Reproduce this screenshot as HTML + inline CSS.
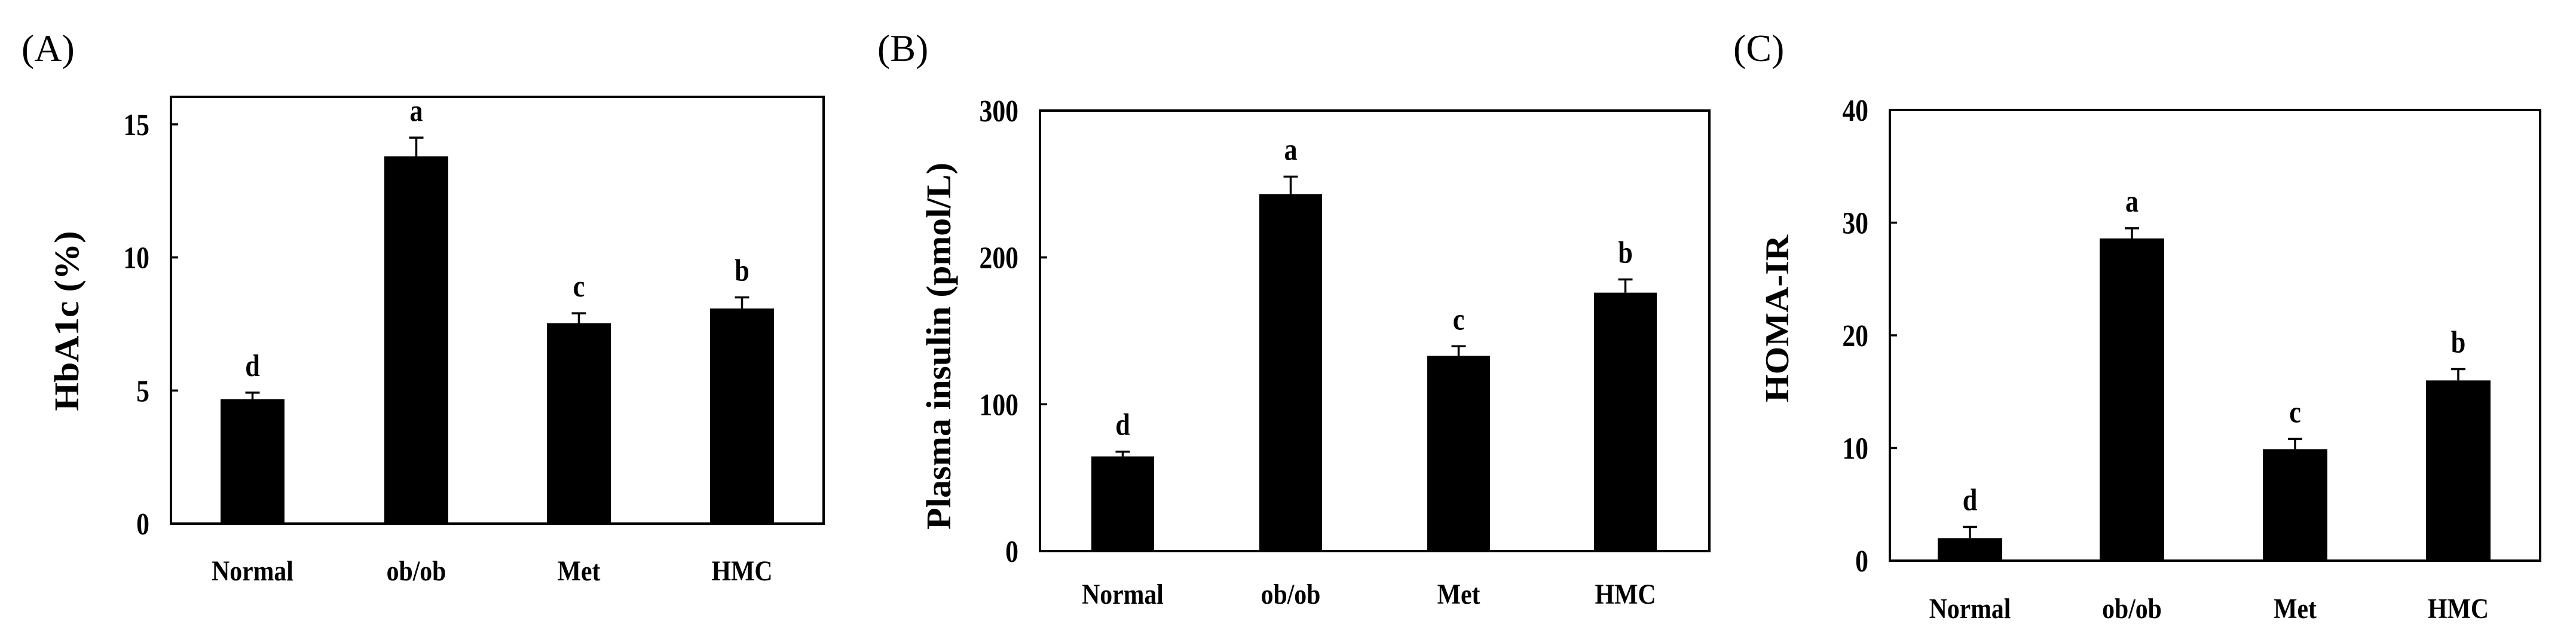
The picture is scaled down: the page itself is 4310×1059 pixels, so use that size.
<!DOCTYPE html>
<html><head><meta charset="utf-8"><style>
html,body{margin:0;padding:0;background:#fff;}
svg{display:block;font-family:"Liberation Serif",serif;}
</style></head><body>
<svg id="fig" width="4310" height="1059" viewBox="0 0 4310 1059" xmlns="http://www.w3.org/2000/svg"></svg>
<script>
const categories = ["Normal", "ob/ob", "Met", "HMC"];
const hba1cValues = [4.67, 13.8, 7.53, 8.08];
const hba1cErrors = [0.25, 0.7, 0.37, 0.42];
const hba1cLetters = ["d", "a", "c", "b"];
const hba1cTicks = [0, 5, 10, 15];
const insulinValues = [64.5, 243, 133, 176];
const insulinErrors = [3.2, 12, 6.5, 9];
const insulinLetters = ["d", "a", "c", "b"];
const insulinTicks = [0, 100, 200, 300];
const homaValues = [2.0, 28.6, 9.9, 16.0];
const homaErrors = [1.0, 0.9, 0.9, 1.0];
const homaLetters = ["d", "a", "c", "b"];
const homaTicks = [0, 10, 20, 30, 40];

const NS = "http://www.w3.org/2000/svg";
const svg = document.getElementById("fig");
function mk(tag, attrs, parent) {
  const e = document.createElementNS(NS, tag);
  for (const k in attrs) e.setAttribute(k, attrs[k]);
  (parent || svg).appendChild(e);
  return e;
}
function txt(str, x, y, size, anchor, sx, parent, weight) {
  const t = mk("text", {
    x: 0, y: 0, "font-size": size, "font-weight": weight || "bold",
    "text-anchor": anchor,
    transform: "translate(" + x + "," + y + ") scale(" + sx + ",1)"
  }, parent);
  t.textContent = str;
  return t;
}

function panel(cfg) {
  const g = mk("g", {});
  
  
  const L = cfg.left, R = cfg.right, T = cfg.top, B = cfg.bottom;
  const yMax = cfg.yMax;
  const yScale = v => B - (v / yMax) * (cfg.yTopTickPx);
  const pl = txt(cfg.panelLabel, cfg.plX, cfg.plY, 64, "start", 1, g, "normal");
  
  
  cfg.values.forEach((v, i) => {
    const x0 = cfg.barX[i], w = cfg.barW;
    const yt = yScale(v);
    const bar = mk("rect", {x: x0, y: yt, width: w, height: B - yt, fill: "#000"}, g);
    
    
    const ye = yScale(v + cfg.errors[i]);
    const cx = x0 + w / 2;
    const eb = mk("path", {d: "M" + cx + "," + yt + "V" + ye + "M" + (cx - 12) + "," + ye + "H" + (cx + 12), stroke: "#000", "stroke-width": 3.5, fill: "none"}, g);
    
    
    const lt = txt(cfg.letters[i], cx, ye - 28, 52, "middle", 0.85, g);
    
    
    const xl = txt(categories[i], cx, cfg.xLabelY, 48, "middle", 0.87, g);
    
    
  });
  const fr = mk("rect", {x: L, y: T, width: R - L, height: B - T, fill: "none", stroke: "#000", "stroke-width": 4}, g);
  
  
  cfg.ticks.forEach(t => {
    const y = yScale(t);
    const tk = mk("line", {x1: L, x2: L + 12, y1: y, y2: y, stroke: "#000", "stroke-width": 3.5}, g);
    
    
    const tl = txt(String(t), L - 36, y + 18, 52, "end", 0.84, g);
    
    
  });
  const yt = mk("text", {x: 0, y: 0, "font-size": cfg.ytSize, "font-weight": "bold", "text-anchor": "middle",
    textLength: cfg.ytLen, lengthAdjust: "spacingAndGlyphs",
    transform: "translate(" + cfg.ytX + "," + cfg.ytY + ") rotate(-90)"}, g);
  yt.textContent = cfg.yTitle;
  
  
}

panel({name: "panel-a-hba1c", panelLabel: "(A)", plX: 36, plY: 102,
  left: 286, right: 1378, top: 162, bottom: 876, yMax: 15, yTopTickPx: 668,
  values: hba1cValues, errors: hba1cErrors, letters: hba1cLetters, ticks: hba1cTicks,
  barX: [369, 643, 915, 1188], barW: 107, xLabelY: 971,
  yTitle: "HbA1c (%)", ytX: 131, ytY: 537, ytSize: 58, ytLen: 301});

panel({name: "panel-b-insulin", panelLabel: "(B)", plX: 1468, plY: 102,
  left: 1740, right: 2860, top: 185, bottom: 922, yMax: 300, yTopTickPx: 737,
  values: insulinValues, errors: insulinErrors, letters: insulinLetters, ticks: insulinTicks,
  barX: [1826, 2107, 2388, 2667], barW: 105, xLabelY: 1010,
  yTitle: "Plasma insulin (pmol/L)", ytX: 1590, ytY: 579, ytSize: 58, ytLen: 614});

panel({name: "panel-c-homa-ir", panelLabel: "(C)", plX: 2900, plY: 102,
  left: 3162, right: 4250, top: 184, bottom: 938, yMax: 40, yTopTickPx: 754,
  values: homaValues, errors: homaErrors, letters: homaLetters, ticks: homaTicks,
  barX: [3242, 3513, 3786, 4059], barW: 108, xLabelY: 1034,
  yTitle: "HOMA-IR", ytX: 2992, ytY: 533, ytSize: 56, ytLen: 280});
</script>
</body></html>
